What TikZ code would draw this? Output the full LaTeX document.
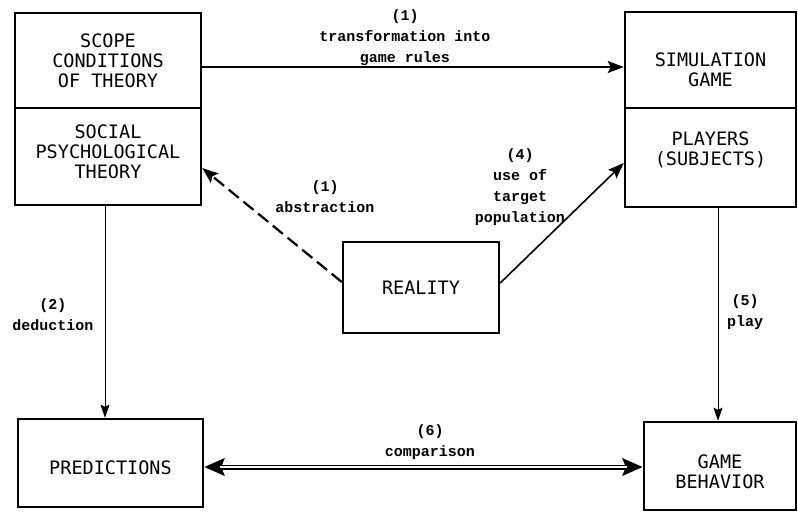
\documentclass[tikz,border=0pt]{standalone}
\usepackage{fontspec}
\newfontfamily\boxfont{DejaVu Sans Mono}
\newfontfamily\lblfont{Liberation Mono}
\usetikzlibrary{arrows.meta}
\tikzset{
  box/.style={draw, line width=2.5pt, inner sep=0pt, align=center,
    font=\boxfont\fontsize{18.5}{20}\selectfont},
  boxtxt/.style={align=center, inner sep=0pt, font=\boxfont\fontsize{18.5}{20}\selectfont},
  lbl/.style={align=center, inner sep=0pt,
    font=\lblfont\bfseries\fontsize{15}{21}\selectfont},
  arr/.style={line width=1.6pt, -{Stealth[length=16pt,width=12pt,inset=3pt]}},
  thin/.style={line width=1pt, -{Stealth[length=13pt,width=9pt,inset=2pt]}}
}
\begin{document}
\begin{tikzpicture}[x=1pt,y=-1pt]
\useasboundingbox (0,0) rectangle (798,512);
% boxes
\node[box, minimum width=186pt, minimum height=95pt] (scope) at (108,60.5) {SCOPE\\CONDITIONS\\OF THEORY};
\node[box, minimum width=186pt, minimum height=97pt] (theory) at (108,156.5) {};
\node[boxtxt] (theorytxt) at (108,152) {SOCIAL\\PSYCHOLOGICAL\\THEORY};
\node[box, minimum width=171pt, minimum height=96pt] (sim) at (710.5,60) {};
\node[boxtxt] (simtxt) at (710.5,70) {SIMULATION\\GAME};
\node[box, minimum width=171pt, minimum height=99pt] (players) at (710.5,157.5) {};
\node[boxtxt] (playerstxt) at (710.5,150) {PLAYERS\\(SUBJECTS)};
\node[box, minimum width=156pt, minimum height=91pt] (reality) at (421,287.5) {REALITY};
\node[box, minimum width=185pt, minimum height=88pt] (pred) at (110.5,463) {};
\node[boxtxt] (predtxt) at (110.5,468) {PREDICTIONS};
\node[box, minimum width=152pt, minimum height=88pt] (gb) at (720,466) {};
\node[boxtxt] (gbtxt) at (720,472) {GAME\\BEHAVIOR};
% connectors
\coordinate (cy) at (0,467);
\draw[arr] ([yshift=-6.5pt]scope.east) -- ([yshift=-7pt]sim.west);
\draw[arr, dashed, dash pattern=on 13pt off 6pt, line width=2.2pt] ([yshift=5.5pt]reality.west) -- ([yshift=-11.5pt]theory.east);
\draw[arr] ([yshift=4.5pt]reality.east) -- ([yshift=-5.5pt]players.west);
\draw[thin] ([xshift=-3pt]theory.south) -- ([xshift=-3pt]theory.south |- pred.north);
\draw[thin] ([xshift=-2pt]gb.north |- players.south) -- ([xshift=-2pt]gb.north);
\draw[line width=5pt, {Stealth[length=20pt,width=17pt,inset=3pt]}-{Stealth[length=20pt,width=17pt,inset=3pt]}] (pred.east |- cy) -- (gb.west |- cy);
\draw[white, line width=1.1pt, shorten <=16pt, shorten >=16pt] (pred.east |- cy) -- (gb.west |- cy);
% labels
\node[lbl] (l1) at (405,38) {(1)\\transformation into\\game rules};
\node[lbl] (l1b) at (325,197) {(1)\\abstraction};
\node[lbl] (l4) at (520,187) {(4)\\use of\\target\\population};
\node[lbl] (l2) at (53,315) {(2)\\deduction};
\node[lbl] (l5) at (745,312) {(5)\\play};
\node[lbl] (l6) at (430,442) {(6)\\comparison};
\end{tikzpicture}
\end{document}
